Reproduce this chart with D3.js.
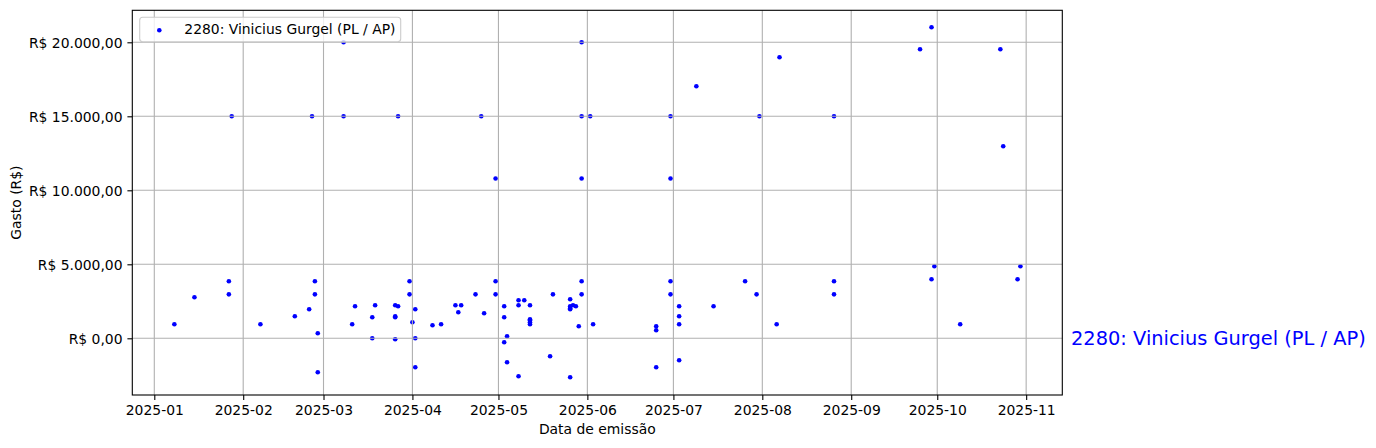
<!DOCTYPE html>
<html>
<head>
<meta charset="utf-8">
<script src="https://cdn.jsdelivr.net/npm/d3@7"></script>
<style>
  html, body { margin: 0; padding: 0; background: #fff; }
  svg { display: block; font-family: "DejaVu Sans", sans-serif; }
</style>
</head>
<body>
<svg id="chart" width="1376" height="448"></svg>
<script>
// ---- data ----
const seriesName = "2280: Vinicius Gurgel (PL / AP)";
const dates = [
  "2025-01-08","2025-01-15","2025-01-27","2025-01-27","2025-01-28",
  "2025-02-07","2025-02-19","2025-02-24","2025-02-25","2025-02-26","2025-02-26","2025-02-27","2025-02-27",
  "2025-03-08","2025-03-08","2025-03-11","2025-03-12","2025-03-18","2025-03-18","2025-03-19",
  "2025-03-26","2025-03-26","2025-03-26","2025-03-26","2025-03-27","2025-03-27","2025-03-31","2025-03-31",
  "2025-04-01","2025-04-02","2025-04-02","2025-04-02","2025-04-08","2025-04-11","2025-04-16","2025-04-17",
  "2025-04-18","2025-04-23","2025-04-25","2025-04-26","2025-04-30","2025-04-30","2025-04-30",
  "2025-05-03","2025-05-03","2025-05-03","2025-05-04","2025-05-04","2025-05-08","2025-05-08","2025-05-08",
  "2025-05-10","2025-05-12","2025-05-12","2025-05-12","2025-05-12","2025-05-12","2025-05-19","2025-05-20",
  "2025-05-26","2025-05-26","2025-05-26","2025-05-26","2025-05-26","2025-05-27","2025-05-28","2025-05-29",
  "2025-05-30","2025-05-30","2025-05-30","2025-05-30","2025-05-30","2025-06-02","2025-06-03",
  "2025-06-25","2025-06-25","2025-06-25","2025-06-30","2025-06-30","2025-06-30","2025-06-30",
  "2025-07-03","2025-07-03","2025-07-03","2025-07-03","2025-07-09","2025-07-15","2025-07-26","2025-07-30","2025-07-31",
  "2025-08-06","2025-08-07","2025-08-26","2025-08-26","2025-08-26",
  "2025-09-25","2025-09-29","2025-09-29","2025-09-30",
  "2025-10-09","2025-10-23","2025-10-24","2025-10-29","2025-10-30"
];
const values = [
  946, 2770, 3850, 2970, 15000,
  946, 1486, 1959, 15000, 3850, 2970, 338, -2297,
  15000, 20000, 946, 2162, 1419, 0, 2230,
  2230, 1486, 1419, -68, 2162, 15000, 3850, 2970,
  1081, 1959, 0, -1959, 878, 946, 2230, 1757,
  2230, 2970, 15000, 1689, 3850, 2970, 10800,
  2162, 1419, -270, 135, -1622, 2568, 2230, -2568,
  2568, 946, 1081, 1216, 1284, 2230, -1216, 2970,
  2635, 2162, 2027, 1959, -2635, 2230, 2162, 811,
  3850, 2970, 20000, 15000, 10800, 15000, 946,
  811, 541, -1959, 3850, 2970, 15000, 10800,
  946, 2162, 1486, -1486, 17027, 2162, 3850, 2970, 15000,
  946, 18986, 15000, 3850, 2970,
  19527, 21013, 3986, 4865,
  946, 19527, 12973, 3986, 4865
];
const yTicks = [0, 5000, 10000, 15000, 20000];
const xTickMonths = ["2025-01","2025-02","2025-03","2025-04","2025-05","2025-06","2025-07","2025-08","2025-09","2025-10","2025-11"];
const xLabel = "Data de emissão";
const yLabel = "Gasto (R$)";

// ---- layout ----
const plot = { left: 132.3, right: 1062.3, top: 10.3, bottom: 395 };
const DAY = 86400000;
const t0 = Date.UTC(2025, 0, 1);
const parse = d3.utcParse("%Y-%m-%d");
const parseMonth = d3.utcParse("%Y-%m");

const x = d3.scaleUtc()
  .domain([new Date(t0 - 7.67 * DAY), new Date(t0 + 316.6 * DAY)])
  .range([plot.left, plot.right]);
const y = d3.scaleLinear()
  .domain([-3831, 22162])
  .range([plot.bottom, plot.top]);

const brl = d3.formatLocale({ decimal: ",", thousands: ".", grouping: [3], currency: ["R$ ", ""] });
const yFmt = brl.format("$,.2f");
const xFmt = d3.utcFormat("%Y-%m");

const svg = d3.select("#chart");
const fontPx = 13.9;

const data = dates.map((d, i) => ({ date: parse(d), value: values[i] }));

// clip
svg.append("defs").append("clipPath").attr("id", "clip")
  .append("rect").attr("x", plot.left).attr("y", plot.top)
  .attr("width", plot.right - plot.left).attr("height", plot.bottom - plot.top);

// points (drawn below grid like matplotlib)
svg.append("g").attr("clip-path", "url(#clip)")
  .selectAll("circle").data(data).join("circle")
  .attr("cx", d => x(d.date))
  .attr("cy", d => y(d.value))
  .attr("r", 2.3)
  .attr("fill", "#0000ff");

// grid
const xTickDates = xTickMonths.map(m => parseMonth(m));
const grid = svg.append("g").attr("stroke", "#b0b0b0").attr("stroke-width", 1.1);
grid.selectAll("line.gx").data(xTickDates).join("line").attr("class", "gx")
  .attr("x1", d => x(d)).attr("x2", d => x(d))
  .attr("y1", plot.top).attr("y2", plot.bottom);
grid.selectAll("line.gy").data(yTicks).join("line").attr("class", "gy")
  .attr("y1", d => y(d)).attr("y2", d => y(d))
  .attr("x1", plot.left).attr("x2", plot.right);

// axes
const xAxis = d3.axisBottom(x).tickValues(xTickDates).tickFormat(xFmt).tickSize(4.9).tickPadding(4.9);
const yAxis = d3.axisLeft(y).tickValues(yTicks).tickFormat(yFmt).tickSize(4.9).tickPadding(4.9);

const gx = svg.append("g").attr("transform", `translate(0,${plot.bottom})`).call(xAxis);
const gy = svg.append("g").attr("transform", `translate(${plot.left},0)`).call(yAxis);
[gx, gy].forEach(g => {
  g.select(".domain").remove();
  g.selectAll(".tick line").attr("stroke", "#000").attr("stroke-width", 1.1);
  g.selectAll(".tick text").attr("fill", "#000").style("font-size", fontPx + "px").style("font-family", "DejaVu Sans");
});
gx.selectAll(".tick text").attr("dy", "0.71em");
gy.selectAll(".tick text").attr("dy", "0.35em");

// spines
svg.append("rect")
  .attr("x", plot.left).attr("y", plot.top)
  .attr("width", plot.right - plot.left).attr("height", plot.bottom - plot.top)
  .attr("fill", "none").attr("stroke", "#000").attr("stroke-width", 1.1);

// axis labels
svg.append("text")
  .attr("x", (plot.left + plot.right) / 2).attr("y", 434)
  .attr("text-anchor", "middle").style("font-size", fontPx + "px")
  .text(xLabel);
svg.append("text")
  .attr("transform", `translate(21,${(plot.top + plot.bottom) / 2}) rotate(-90)`)
  .attr("text-anchor", "middle").style("font-size", fontPx + "px")
  .text(yLabel);

// legend
const lg = svg.append("g");
lg.append("rect")
  .attr("x", 139.7).attr("y", 17.3).attr("width", 261).attr("height", 24.4)
  .attr("rx", 3).attr("fill", "#fff").attr("fill-opacity", 0.8)
  .attr("stroke", "#cccccc").attr("stroke-width", 1.1);
lg.append("circle").attr("cx", 159.3).attr("cy", 30.3).attr("r", 2.3).attr("fill", "#0000ff");
lg.append("text").attr("x", 184.3).attr("y", 34.3)
  .style("font-size", fontPx + "px").text(seriesName);

// right-side annotation
svg.append("text")
  .attr("x", 1071).attr("y", y(0)).attr("dy", "0.32em")
  .attr("fill", "#0000ff").style("font-size", "19.4px")
  .text(seriesName);
</script>
</body>
</html>
